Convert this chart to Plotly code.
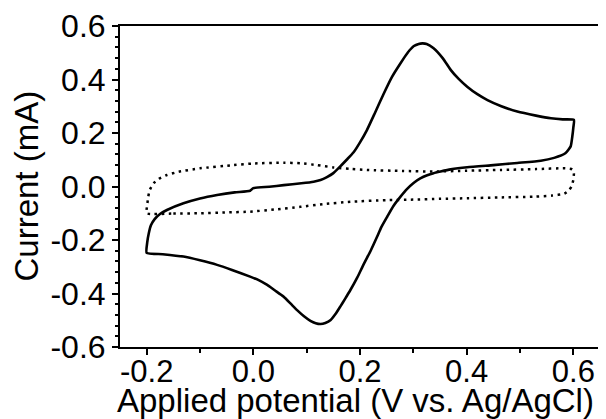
import plotly.graph_objects as go

# Solid CV trace (sample), scan starts at 0.0 V, goes to 0.6 V, back to -0.2 V, returns to 0.0 V
V_solid = [0.0, 0.03, 0.057, 0.09, 0.113, 0.126, 0.138, 0.15, 0.163, 0.175, 0.188, 0.2, 0.213, 0.228,
           0.244, 0.26, 0.276, 0.29, 0.301, 0.31, 0.317, 0.325, 0.338, 0.355, 0.37, 0.385, 0.401,
           0.42, 0.439, 0.465, 0.495, 0.53, 0.558, 0.58, 0.601,
           0.600, 0.598, 0.595, 0.585, 0.564, 0.539, 0.495, 0.45, 0.401, 0.37, 0.351, 0.338, 0.326,
           0.313, 0.301, 0.288, 0.276, 0.263, 0.251, 0.24, 0.232, 0.22, 0.207, 0.195, 0.182, 0.172,
           0.163, 0.154, 0.145, 0.135, 0.126, 0.117, 0.107, 0.095, 0.082, 0.07, 0.057, 0.04, 0.026,
           0.01, -0.006, -0.04, -0.068, -0.1, -0.131, -0.17, -0.2,
           -0.199, -0.196, -0.192, -0.185, -0.175, -0.162, -0.131, -0.1, -0.068, -0.035, -0.006, 0.0]
I_solid = [-0.006, -0.001, 0.005, 0.012, 0.018, 0.024, 0.035, 0.05, 0.075, 0.1, 0.128, 0.165, 0.211, 0.275,
           0.345, 0.41, 0.461, 0.502, 0.525, 0.533, 0.535, 0.533, 0.517, 0.48, 0.436, 0.402, 0.373,
           0.345, 0.323, 0.3, 0.28, 0.265, 0.255, 0.251, 0.249,
           0.22, 0.186, 0.15, 0.124, 0.107, 0.096, 0.088, 0.08, 0.072, 0.064, 0.056, 0.05, 0.042,
           0.03, 0.014, -0.01, -0.038, -0.072, -0.113, -0.152, -0.188, -0.24, -0.29, -0.34, -0.387, -0.42,
           -0.449, -0.477, -0.499, -0.51, -0.514, -0.511, -0.502, -0.485, -0.462, -0.438, -0.412, -0.388, -0.368,
           -0.35, -0.337, -0.312, -0.293, -0.276, -0.262, -0.253, -0.248,
           -0.21, -0.175, -0.145, -0.122, -0.103, -0.088, -0.063, -0.045, -0.032, -0.022, -0.016, -0.006]

# Dotted CV trace (background)
V_dot = [-0.2, -0.15, -0.1, -0.05, -0.006, 0.04, 0.088, 0.13, 0.182, 0.25, 0.3, 0.35, 0.401, 0.46,
         0.526, 0.56, 0.583, 0.592, 0.597, 0.600, 0.601, 0.598, 0.585,
         0.53, 0.464, 0.4, 0.339, 0.28, 0.213, 0.182, 0.151, 0.12, 0.088, 0.057, 0.0, -0.037, -0.1,
         -0.14, -0.162, -0.178, -0.187, -0.194, -0.197, -0.199, -0.2]
I_dot = [-0.1, -0.101, -0.1, -0.097, -0.094, -0.086, -0.076, -0.066, -0.057, -0.051, -0.049, -0.046, -0.044, -0.041,
         -0.038, -0.034, -0.027, -0.014, 0.002, 0.025, 0.05, 0.064, 0.068,
         0.065, 0.062, 0.059, 0.056, 0.058, 0.062, 0.066, 0.071, 0.08, 0.087, 0.089, 0.086, 0.08, 0.068,
         0.055, 0.043, 0.028, 0.012, -0.012, -0.038, -0.07, -0.1]

x_ticks = [-0.2, 0.0, 0.2, 0.4, 0.6]
x_labels = ["-0.2", "0.0", "0.2", "0.4", "0.6"]
y_ticks = [-0.6, -0.4, -0.2, 0.0, 0.2, 0.4, 0.6]
y_labels = ["-0.6", "-0.4", "-0.2", "0.0", "0.2", "0.4", "0.6"]
x_title = "Applied potential (V vs. Ag/AgCl)"
y_title = "Current (mA)"

fig = go.Figure()
fig.add_trace(go.Scatter(x=V_dot, y=I_dot, mode="lines",
                         line=dict(color="black", width=2.5, dash="2.5px,4.5px", shape="spline", smoothing=0.5),
                         showlegend=False))
fig.add_trace(go.Scatter(x=V_solid, y=I_solid, mode="lines",
                         line=dict(color="black", width=2.6, shape="spline", smoothing=0.5),
                         showlegend=False))

font_family = "Arial, Liberation Sans, sans-serif"
# page body has an 8px default offset, margins compensate for it
fig.update_layout(
    width=606, height=419,
    margin=dict(l=112, r=14, t=18, b=80),
    paper_bgcolor="white", plot_bgcolor="white",
    font=dict(family=font_family, color="black"),
)
fig.update_xaxes(
    range=[-0.25, 0.65], tickvals=x_ticks, ticktext=x_labels, automargin=False,
    showline=True, linecolor="black", linewidth=2, mirror=True,
    ticks="outside", ticklen=6, tickwidth=2, tickcolor="black",
    minor=dict(dtick=0.1, tick0=-0.1, ticks="outside", ticklen=4, tickwidth=2, tickcolor="black"),
    showgrid=False, zeroline=False, ticklabeloverflow="allow",
    tickfont=dict(size=31), ticklabelstandoff=-10,
)
fig.update_yaxes(
    range=[-0.6, 0.6], tickvals=y_ticks, ticktext=y_labels, automargin=False,
    showline=True, linecolor="black", linewidth=2, mirror=True,
    ticks="outside", ticklen=6, tickwidth=2, tickcolor="black",
    minor=dict(dtick=0.04, tick0=0, ticks="outside", ticklen=3, tickwidth=1.5, tickcolor="black"),
    showgrid=False, zeroline=False, ticklabeloverflow="allow",
    tickfont=dict(size=32),
)
fig.add_annotation(text=x_title, xref="paper", yref="paper", x=0.49, y=0,
                   xanchor="center", yanchor="bottom", yshift=-74, showarrow=False,
                   font=dict(size=33))
fig.add_annotation(text=y_title, xref="paper", yref="paper", x=0, y=0.5,
                   xanchor="center", yanchor="middle", xshift=-94, textangle=-90, showarrow=False,
                   font=dict(size=33))

fig.write_html("out.html")
